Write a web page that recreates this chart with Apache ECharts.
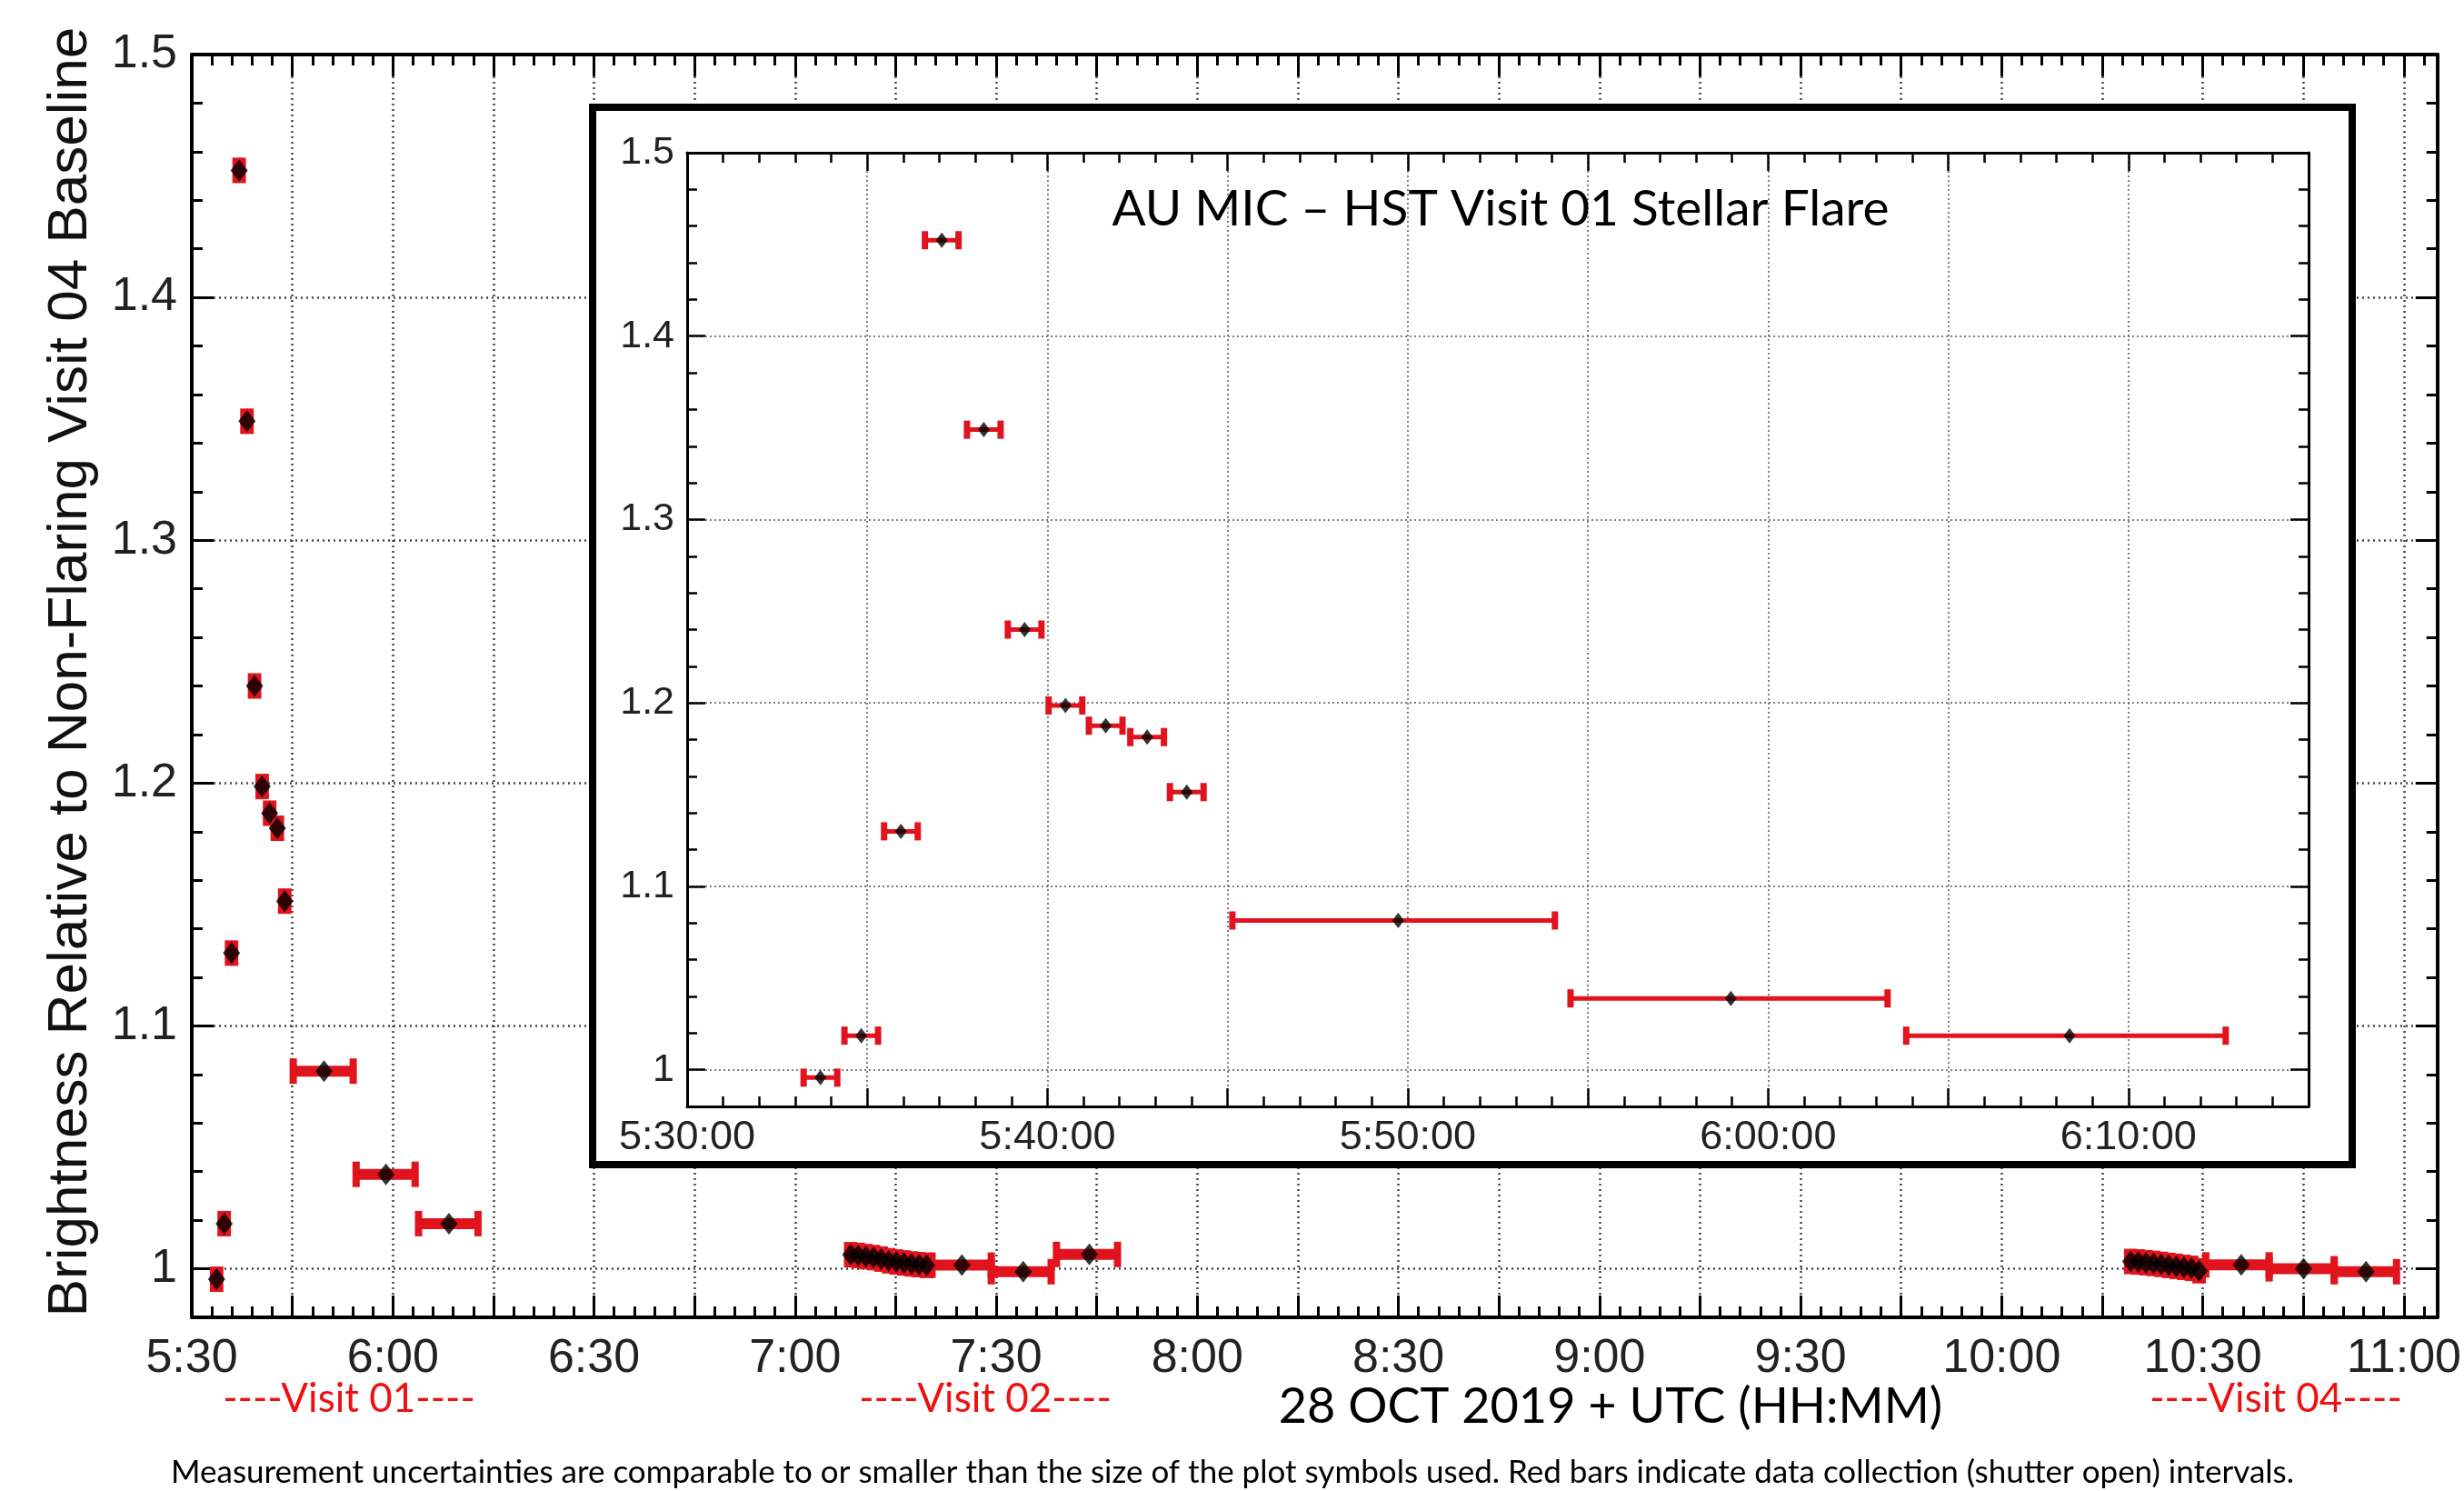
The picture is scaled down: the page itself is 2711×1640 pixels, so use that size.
<!DOCTYPE html>
<html><head><meta charset="utf-8">
<script src="https://cdn.jsdelivr.net/npm/echarts@6/dist/echarts.min.js"></script>
<style>html,body{margin:0;padding:0;background:#fff}#c{width:2711px;height:1640px}</style>
</head><body><div id="c"></div>
<script>
// ---------------- data (UTC times on 28 Oct 2019, brightness relative to baseline) ----------------
const visit01Start = ['5:33:14','5:34:22','5:35:28','5:36:36','5:37:46','5:38:54','5:40:02','5:41:09','5:42:18','5:43:24','5:45:08','5:54:31','6:03:50'];
const visit01End   = ['5:34:10','5:35:18','5:36:24','5:37:32','5:38:42','5:39:50','5:40:58','5:42:05','5:43:14','5:44:20','5:54:05','6:03:19','6:12:42'];
const visit01Mid   = ['5:33:42','5:34:50','5:35:56','5:37:04','5:38:14','5:39:22','5:40:30','5:41:37','5:42:46','5:43:52','5:49:44','5:58:58','6:08:22'];
const visit01Flux  = [0.9957, 1.0186, 1.1300, 1.4523, 1.3490, 1.2400, 1.1986, 1.1876, 1.1814, 1.1514, 1.0814, 1.0389, 1.0186];

const visit02Start = ['7:07:50','7:08:58','7:10:06','7:11:14','7:12:22','7:13:30','7:14:38','7:15:46','7:16:54','7:18:02','7:19:10','7:20:26','7:29:16','7:39:00'];
const visit02End   = ['7:08:46','7:09:54','7:11:02','7:12:10','7:13:18','7:14:26','7:15:34','7:16:42','7:17:50','7:18:58','7:20:06','7:29:16','7:38:12','7:48:06'];
const visit02Mid   = ['7:08:18','7:09:26','7:10:34','7:11:42','7:12:50','7:13:58','7:15:06','7:16:14','7:17:22','7:18:30','7:19:38','7:24:53','7:34:02','7:43:54'];
const visit02Flux  = [1.0058, 1.0055, 1.0050, 1.0046, 1.0040, 1.0033, 1.0028, 1.0024, 1.0020, 1.0017, 1.0014, 1.0015, 0.9988, 1.0059];

const visit04Start = ['10:18:47','10:19:55','10:21:03','10:22:11','10:23:19','10:24:27','10:25:35','10:26:43','10:27:51','10:28:59','10:30:27','10:39:54','10:49:36'];
const visit04End   = ['10:19:43','10:20:51','10:21:59','10:23:07','10:24:15','10:25:23','10:26:31','10:27:39','10:28:47','10:29:55','10:39:54','10:49:36','10:58:54'];
const visit04Mid   = ['10:19:15','10:20:23','10:21:31','10:22:39','10:23:47','10:24:55','10:26:03','10:27:11','10:28:19','10:29:27','10:35:44','10:45:02','10:54:21'];
const visit04Flux  = [1.0030, 1.0028, 1.0025, 1.0022, 1.0018, 1.0014, 1.0010, 1.0006, 1.0002, 0.9992, 1.0016, 1.0000, 0.9988];

const mainTimeRange  = ['5:30', '11:05'];
const insetTimeRange = ['5:30', '6:15'];
const brightnessRange = [0.98, 1.5];

const visitLabels = ['----Visit 01----', '----Visit 02----', '----Visit 04----'];
const yTitle = 'Brightness Relative to Non-Flaring Visit 04 Baseline';
const xTitle = '28 OCT 2019 + UTC (HH:MM)';
const insetTitle = 'AU MIC \u2013 HST Visit 01 Stellar Flare';
const caption = 'Measurement uncertainties are comparable to or smaller than the size of the plot symbols used. Red bars indicate data collection (shutter open) intervals.';

// ---------------- helpers ----------------
const RED = '#e1131d';
const TICKFONT = '"Liberation Sans", Arial, Helvetica, sans-serif';
const TEXTFONT = 'Lato, "Open Sans", sans-serif';
function toMin(s){ const p = s.split(':').map(Number); return p[0]*60 + p[1] + (p[2]||0)/60; }
function pad(n){ return n < 10 ? '0' + n : '' + n; }
function hm(v){ const h = Math.floor(v/60 + 1e-9); const m = Math.round(v - h*60); return h + ':' + pad(m); }
function isMult(v, step){ const r = v/step; return Math.abs(r - Math.round(r)) < 1e-6; }
function bars(start, end, flux){ return flux.map((f,i) => [toMin(start[i]), toMin(end[i]), f]); }
function pts(mid, flux){ return flux.map((f,i) => [toMin(mid[i]), f]); }

const allBars = [].concat(bars(visit01Start, visit01End, visit01Flux), bars(visit02Start, visit02End, visit02Flux), bars(visit04Start, visit04End, visit04Flux));
const allPts  = [].concat(pts(visit01Mid, visit01Flux), pts(visit02Mid, visit02Flux), pts(visit04Mid, visit04Flux));
const v1Bars = bars(visit01Start, visit01End, visit01Flux);
const v1Pts  = pts(visit01Mid, visit01Flux);

function errorBar(lw, capH, capW){
  return function(params, api){
    const y = api.value(2);
    const a = api.coord([api.value(0), y]);
    const b = api.coord([api.value(1), y]);
    return { type: 'group', children: [
      { type: 'line', shape: { x1: a[0], y1: a[1], x2: b[0], y2: b[1] }, style: { stroke: RED, lineWidth: lw } },
      { type: 'line', shape: { x1: a[0], y1: a[1] - capH/2, x2: a[0], y2: a[1] + capH/2 }, style: { stroke: RED, lineWidth: capW } },
      { type: 'line', shape: { x1: b[0], y1: b[1] - capH/2, x2: b[0], y2: b[1] + capH/2 }, style: { stroke: RED, lineWidth: capW } }
    ]};
  };
}

const xMin = toMin(mainTimeRange[0]), xMax = toMin(mainTimeRange[1]);
const ixMin = toMin(insetTimeRange[0]), ixMax = toMin(insetTimeRange[1]);

function xAxisDef(grid, pos, min, max, interval, len, o){
  return Object.assign({
    gridIndex: grid, type: 'value', position: pos, min: min, max: max, interval: interval,
    axisLine: { show: false, onZero: false },
    axisTick: { show: true, inside: true, length: len, lineStyle: { color: '#000', width: 3 } },
    axisLabel: { show: false }, splitLine: { show: false }
  }, o || {});
}
function yAxisDef(grid, pos, len, o){
  return Object.assign({
    gridIndex: grid, type: 'value', position: pos, min: brightnessRange[0], max: brightnessRange[1],
    axisLine: { show: false, onZero: false },
    axisTick: { show: true, inside: true, length: len, lineStyle: { color: '#000', width: 3 } },
    axisLabel: { show: false }, splitLine: { show: false }
  }, o || {});
}
function yMajor(grid, pos, len, lineW, o){
  return yAxisDef(grid, pos, len, Object.assign({ minInterval: 0.1, maxInterval: 0.1, splitNumber: 5,
    axisLine: { show: true, onZero: false, lineStyle: { color: '#000', width: lineW } } }, o || {}));
}
function yFmt(v){ if (!isMult(v, 0.1)) return ''; return Math.abs(v - 1) < 1e-6 ? '1' : v.toFixed(1); }

const insetTick = (len) => ({ show: true, inside: true, length: len, lineStyle: { color: '#000', width: 2.5 } });

const option = {
  animation: false,
  backgroundColor: '#fff',
  grid: [
    { left: 211, right: 29, top: 60, bottom: 191, show: false },
    { left: 756, right: 171, top: 168, bottom: 423, show: false, z: 4 }
  ],
  xAxis: [
    // main
    xAxisDef(0, 'bottom', xMin, xMax, 15, 24, {
      axisLine: { show: true, onZero: false, lineStyle: { color: '#000', width: 4 } },
      axisLabel: { show: true, margin: 20, fontSize: 52, fontFamily: TICKFONT, color: '#222',
        formatter: v => (isMult(v, 30) ? hm(v) : '') },
      splitLine: { show: true, lineStyle: { color: '#444', width: 2.5, type: [2, 4] } }
    }),
    xAxisDef(0, 'bottom', xMin, xMax, 3, 12),
    xAxisDef(0, 'top', xMin, xMax, 15, 24, { axisLine: { show: true, onZero: false, lineStyle: { color: '#000', width: 4 } } }),
    xAxisDef(0, 'top', xMin, xMax, 3, 12),
    // inset
    xAxisDef(1, 'bottom', ixMin, ixMax, 5, 20, { z: 4,
      axisLine: { show: true, onZero: false, lineStyle: { color: '#000', width: 3 } },
      axisTick: insetTick(20),
      axisLabel: { show: true, margin: 12, fontSize: 45, fontFamily: TICKFONT, color: '#222',
        formatter: v => (isMult(v, 10) ? hm(v) + ':00' : '') },
      splitLine: { show: true, lineStyle: { color: '#555', width: 1.5, type: [2, 3] } }
    }),
    xAxisDef(1, 'bottom', ixMin, ixMax, 1, 11, { z: 4, axisTick: insetTick(11) }),
    xAxisDef(1, 'top', ixMin, ixMax, 5, 20, { z: 4,
      axisLine: { show: true, onZero: false, lineStyle: { color: '#000', width: 3 } }, axisTick: insetTick(20) }),
    xAxisDef(1, 'top', ixMin, ixMax, 1, 11, { z: 4, axisTick: insetTick(11) })
  ],
  yAxis: [
    // main
    yMajor(0, 'left', 24, 4, {
      axisLabel: { show: true, margin: 16, fontSize: 52, fontFamily: TICKFONT, color: '#222', formatter: yFmt },
      splitLine: { show: true, lineStyle: { color: '#444', width: 2.5, type: [2, 4] } }
    }),
    yAxisDef(0, 'left', 12, { interval: 0.02 }),
    yMajor(0, 'right', 24, 4),
    yAxisDef(0, 'right', 12, { interval: 0.02 }),
    // inset
    yMajor(1, 'left', 20, 3, { z: 4, axisTick: insetTick(20),
      axisLabel: { show: true, margin: 14, fontSize: 43, fontFamily: TICKFONT, color: '#222', formatter: yFmt },
      splitLine: { show: true, lineStyle: { color: '#555', width: 1.5, type: [2, 3] } }
    }),
    yAxisDef(1, 'left', 11, { z: 4, interval: 0.02, axisTick: insetTick(11) }),
    yMajor(1, 'right', 20, 3, { z: 4, axisTick: insetTick(20) }),
    yAxisDef(1, 'right', 11, { z: 4, interval: 0.02, axisTick: insetTick(11) })
  ],
  series: [
    { type: 'custom', name: 'exposure', xAxisIndex: 0, yAxisIndex: 0, z: 2, data: allBars,
      encode: { x: [0, 1], y: 2 }, renderItem: errorBar(12, 28, 8) },
    { type: 'scatter', name: 'brightness', xAxisIndex: 0, yAxisIndex: 0, z: 2, data: allPts,
      symbol: 'diamond', symbolSize: [19, 24], itemStyle: { color: '#000' } },
    { type: 'custom', name: 'exposure inset', xAxisIndex: 4, yAxisIndex: 4, z: 5, data: v1Bars,
      encode: { x: [0, 1], y: 2 }, renderItem: errorBar(5, 20, 7) },
    { type: 'scatter', name: 'brightness inset', xAxisIndex: 4, yAxisIndex: 4, z: 6, data: v1Pts,
      symbol: 'diamond', symbolSize: [13, 17], itemStyle: { color: '#000' } }
  ],
  graphic: { elements: [
    { type: 'rect', z: 3, shape: { x: 652, y: 118, width: 1936, height: 1163 },
      style: { fill: '#fff', stroke: '#000', lineWidth: 8 } },
    { type: 'text', z: 7, x: 1651, y: 230, style: { text: insetTitle, font: '55px ' + TEXTFONT, fill: '#000',
      align: 'center', verticalAlign: 'middle', textAlign: 'center', textVerticalAlign: 'middle' } },
    { type: 'text', z: 7, x: 78, y: 739, rotation: Math.PI/2, style: { text: yTitle, font: '62px ' + TICKFONT, fill: '#111',
      align: 'center', verticalAlign: 'middle', textAlign: 'center', textVerticalAlign: 'middle' } },
    { type: 'text', z: 7, x: 1772, y: 1548, style: { text: xTitle, font: '54px ' + TEXTFONT, fill: '#000',
      align: 'center', verticalAlign: 'middle', textAlign: 'center', textVerticalAlign: 'middle' } },
    { type: 'text', z: 7, x: 384, y: 1539, style: { text: visitLabels[0], font: '44px ' + TEXTFONT, fill: '#ee1111',
      align: 'center', verticalAlign: 'middle', textAlign: 'center', textVerticalAlign: 'middle' } },
    { type: 'text', z: 7, x: 1084, y: 1539, style: { text: visitLabels[1], font: '44px ' + TEXTFONT, fill: '#ee1111',
      align: 'center', verticalAlign: 'middle', textAlign: 'center', textVerticalAlign: 'middle' } },
    { type: 'text', z: 7, x: 2504, y: 1539, style: { text: visitLabels[2], font: '44px ' + TEXTFONT, fill: '#ee1111',
      align: 'center', verticalAlign: 'middle', textAlign: 'center', textVerticalAlign: 'middle' } },
    { type: 'text', z: 7, x: 1356, y: 1620, style: { text: caption, font: '35px ' + TEXTFONT, fill: '#000',
      align: 'center', verticalAlign: 'middle', textAlign: 'center', textVerticalAlign: 'middle' } }
  ]}
};
const chart = echarts.init(document.getElementById('c'), null, { renderer: 'canvas' });
chart.setOption(option);
</script></body></html>
